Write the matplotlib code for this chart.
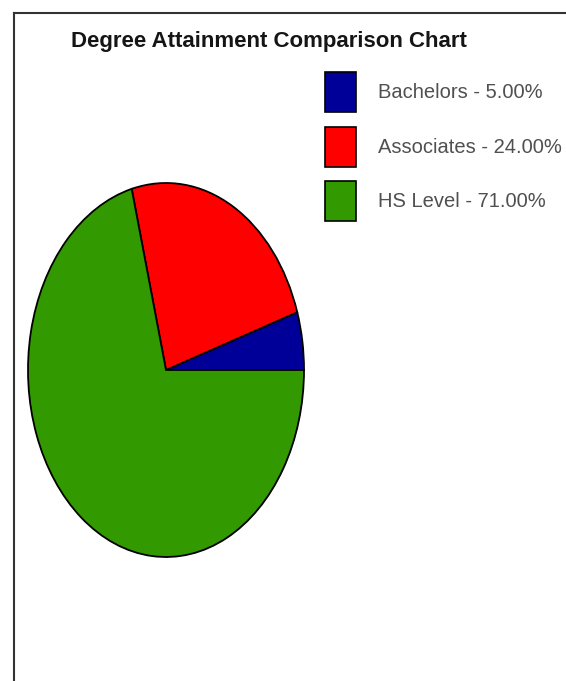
import matplotlib
matplotlib.use("Agg")
import matplotlib.pyplot as plt
from matplotlib.lines import Line2D

# Data
categories = ["Bachelors", "Associates", "HS Level"]
shares = [5.00, 24.00, 71.00]
slice_colors = ["#000099", "#ff0000", "#339900"]
title = "Degree Attainment Comparison Chart"

W, H = 566, 681
fig = plt.figure(figsize=(W / 100, H / 100), dpi=100)
fig.patch.set_facecolor("white")

# pie stretched into an ellipse
ax = fig.add_axes([28 / W, 1 - 557 / H, 276 / W, 374 / H])
wedges, _ = ax.pie(shares, colors=slice_colors, startangle=0, counterclock=True,
                   wedgeprops=dict(edgecolor="black", linewidth=1.3))
ax.set_aspect("auto")
ax.set_xlim(-1, 1)
ax.set_ylim(-1, 1)
ax.axis("off")

fig.text(269 / W, 1 - 42 / H, title, ha="center", va="center",
         fontsize=16, fontweight="bold", color="#151515",
         family=["Liberation Sans", "DejaVu Sans"])

labels = [f"{c} - {v:.2f}%" for c, v in zip(categories, shares)]
leg = fig.legend(wedges, labels, loc="upper left",
                 bbox_to_anchor=(325 / W, 1 - 72 / H),
                 frameon=False, borderpad=0, borderaxespad=0,
                 handlelength=1.54, handleheight=2.68,
                 labelspacing=0.72, handletextpad=1.1,
                 prop=dict(family=["Liberation Sans", "DejaVu Sans"], size=14.5))
for t in leg.get_texts():
    t.set_color("#505050")
for p in leg.get_patches():
    p.set_linewidth(1.2)

# frame lines (top and left visible in the crop)
fig.add_artist(Line2D([14 / W, 1], [1 - 13 / H, 1 - 13 / H], color="#333333", lw=1.5))
fig.add_artist(Line2D([14 / W, 14 / W], [0, 1 - 13 / H], color="#333333", lw=1.5))

fig.savefig("out.png", dpi=100, facecolor="white")
